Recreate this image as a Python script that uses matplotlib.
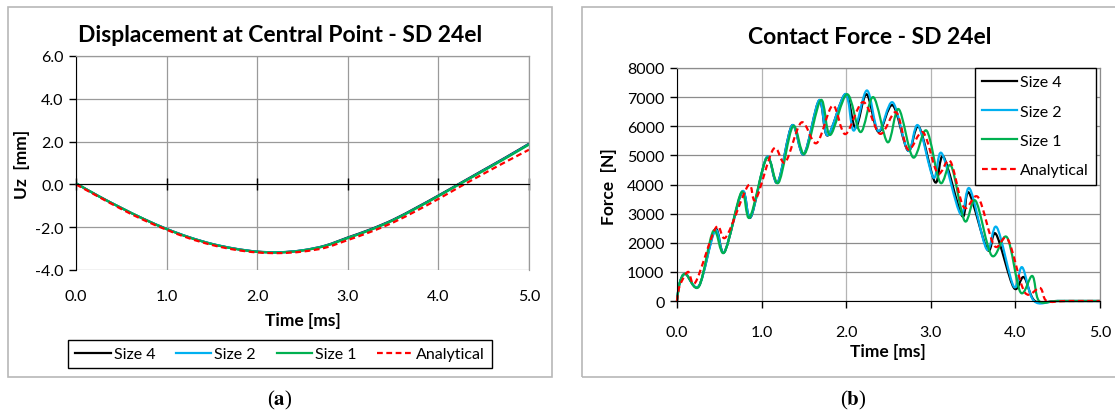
import numpy as np
import matplotlib.pyplot as plt
import matplotlib.transforms as mtransforms
from matplotlib.path import Path
from matplotlib.patches import PathPatch, Rectangle
from matplotlib.lines import Line2D

plt.rcParams['font.family'] = ['Lato', 'DejaVu Sans']
plt.rcParams['axes.unicode_minus'] = False

# ---- (a) displacement at central point [mm] vs time [ms]
t_disp = [0.0, 0.25, 0.5, 0.75, 1.0, 1.25, 1.5, 1.75, 2.0, 2.25, 2.5,
          2.75, 3.0, 3.25, 3.5, 3.75, 4.0, 4.25, 4.5, 4.75, 5.0]
uz_size4 = [0.05, -0.55, -1.10, -1.62, -2.08, -2.47, -2.78, -3.00, -3.14, -3.17, -3.08,
            -2.86, -2.48, -2.10, -1.65, -1.10, -0.52, 0.08, 0.68, 1.28, 1.90]
uz_size2 = [0.05, -0.55, -1.10, -1.62, -2.08, -2.47, -2.78, -3.00, -3.14, -3.17, -3.08,
            -2.87, -2.50, -2.12, -1.67, -1.12, -0.54, 0.06, 0.66, 1.26, 1.88]
uz_size1 = [0.05, -0.55, -1.10, -1.62, -2.09, -2.48, -2.79, -3.01, -3.15, -3.18, -3.09,
            -2.88, -2.51, -2.13, -1.68, -1.13, -0.55, 0.05, 0.64, 1.24, 1.86]
uz_anal = [0.0, -0.58, -1.15, -1.67, -2.12, -2.52, -2.83, -3.05, -3.18, -3.21, -3.14,
           -2.96, -2.60, -2.22, -1.78, -1.25, -0.68, -0.08, 0.50, 1.07, 1.62]

# ---- (b) contact force [N] vs time [ms]
t_size4 = [0.0, 0.03, 0.10, 0.26, 0.45, 0.56, 0.77, 0.87, 1.06, 1.19, 1.36, 1.50, 1.68,
           1.78, 1.99, 2.11, 2.24, 2.38, 2.55, 2.73, 2.86, 3.05, 3.15, 3.37, 3.45, 3.67,
           3.77, 3.98, 4.10, 4.23, 4.50, 5.00]
f_size4 = [0, 600, 930, 520, 2460, 1680, 3750, 2870, 4930, 4070, 6030, 5040, 6880,
           5680, 7100, 5950, 7100, 5810, 6720, 5160, 5980, 4080, 4950, 2920, 3720, 1760,
           2300, 460, 820, 0, 0, 0]
t_size2 = [0.0, 0.03, 0.10, 0.26, 0.45, 0.56, 0.77, 0.87, 1.06, 1.19, 1.36, 1.50, 1.68,
           1.78, 1.99, 2.09, 2.245, 2.38, 2.55, 2.73, 2.85, 3.03, 3.13, 3.35, 3.46, 3.66,
           3.78, 3.98, 4.08, 4.22, 4.50, 5.00]
f_size2 = [0, 600, 930, 520, 2420, 1680, 3760, 2880, 4940, 4070, 6030, 5040, 6900,
           5690, 7110, 5850, 7230, 5840, 6820, 5160, 6030, 4240, 5070, 2990, 3860, 1780,
           2530, 500, 1160, 0, 0, 0]
t_size1 = [0.0, 0.03, 0.10, 0.26, 0.43, 0.56, 0.76, 0.86, 1.06, 1.20, 1.37, 1.51, 1.70,
           1.81, 2.01, 2.17, 2.32, 2.49, 2.62, 2.79, 2.95, 3.11, 3.24, 3.40, 3.53, 3.72,
           3.90, 4.06, 4.20, 4.28, 4.50, 5.00]
f_size1 = [0, 600, 930, 500, 2410, 1670, 3730, 2870, 4900, 4060, 6000, 5060, 6900,
           5700, 7100, 5800, 7000, 5450, 6590, 4930, 5850, 4070, 4640, 2750, 3440, 1560,
           2190, 300, 860, 0, 0, 0]
t_anal = [0.0, 0.03, 0.13, 0.22, 0.46, 0.58, 0.84, 0.93, 1.14, 1.28, 1.47, 1.65, 1.84,
          1.99, 2.20, 2.40, 2.59, 2.73, 2.91, 3.08, 3.23, 3.39, 3.56, 3.75, 3.91, 4.11,
          4.29, 4.37, 4.60, 5.00]
f_anal = [0, 500, 1000, 650, 2520, 2200, 3960, 3480, 5220, 4760, 6130, 5420, 6710,
          5730, 6830, 5740, 6480, 5200, 5790, 4390, 4800, 3220, 3560, 1900, 2120, 300,
          450, 0, 0, 0]

labels = ['Size 4', 'Size 2', 'Size 1', 'Analytical']
colors = ['black', '#00b0f0', '#00b050', '#ff0000']
styles = ['-', '-', '-', (0, (2.6, 1.6))]

W, H = 1115, 414


def smooth_path(x, y):
    # Excel-like smoothed line: Catmull-Rom through the points as cubic Bezier
    pts = np.column_stack([x, y]).astype(float)
    n = len(pts)
    verts = [pts[0]]
    codes = [Path.MOVETO]
    for i in range(n - 1):
        p0 = pts[max(i - 1, 0)]
        p1 = pts[i]
        p2 = pts[i + 1]
        p3 = pts[min(i + 2, n - 1)]
        verts += [p1 + (p2 - p0) / 6, p2 - (p3 - p1) / 6, p2]
        codes += [Path.CURVE4] * 3
    return Path(verts, codes)


def draw_series(ax, x, y, color, ls):
    patch = PathPatch(smooth_path(x, y), fill=False, edgecolor=color, lw=1.6,
                      linestyle=ls, capstyle='butt', joinstyle='round')
    patch.set_clip_on(False)
    ax.add_patch(patch)


def px(x0, y0, x1, y1):
    return [x0 / W, 1 - y1 / H, (x1 - x0) / W, (y1 - y0) / H]


fig = plt.figure(figsize=(W / 100, H / 100), dpi=100)

# panel frames
for x0, x1 in [(8, 552), (582, 1125)]:
    fig.patches.append(Rectangle((x0 / W, 1 - 378 / H), (x1 - x0) / W, 370 / H,
                                 transform=fig.transFigure, fill=False,
                                 edgecolor='#b8b8b8', lw=1.2))

tick_fs = 11.5
lab_fs = 12.5
grid_c = '#9a9a9a'

# ---------------- (a)
ax1 = fig.add_axes(px(76, 57, 529, 271))
for y, c, ls in zip([uz_size4, uz_size2, uz_size1, uz_anal], colors, styles):
    draw_series(ax1, t_disp, y, c, ls)
ax1.set_xlim(0, 5)
ax1.set_ylim(-4, 6)
ax1.set_xticks(np.arange(0, 5.01, 1.0))
ax1.set_yticks(np.arange(-4, 6.01, 2.0))
ax1.xaxis.set_major_formatter(plt.FormatStrFormatter('%.1f'))
ax1.yaxis.set_major_formatter(plt.FormatStrFormatter('%.1f'))
ax1.grid(True, color=grid_c, lw=0.9)
ax1.set_axisbelow(True)
ax1.spines['bottom'].set_position(('data', 0))
ax1.spines['bottom'].set_color('black')
ax1.spines['left'].set_color('black')
for s in ['top', 'right']:
    ax1.spines[s].set_color(grid_c)
    ax1.spines[s].set_linewidth(0.9)
ax1.tick_params(axis='x', direction='inout', length=8, width=1, labelsize=tick_fs, pad=10)
ax1.tick_params(axis='y', direction='out', length=5, width=1, labelsize=tick_fs, pad=4)
# x tick labels sit below the plot area, not at the y=0 axis line
offset = mtransforms.ScaledTranslation(0, -(271 - (57 + 214 * 0.6)) / 100, fig.dpi_scale_trans)
for lab in ax1.get_xticklabels():
    lab.set_transform(lab.get_transform() + offset)

fig.text(280 / W, 1 - 35 / H, 'Displacement at Central Point - SD 24el', ha='center', va='center',
         fontsize=16.5, fontweight='bold')
fig.text(22 / W, 1 - 164 / H, 'Uz  [mm]', ha='center', va='center', rotation=90,
         fontsize=lab_fs, fontweight='bold')
fig.text(302.5 / W, 1 - 321 / H, 'Time [ms]', ha='center', va='center',
         fontsize=lab_fs, fontweight='bold')

handles = [Line2D([], [], color=c, lw=1.6, linestyle=ls) for c, ls in zip(colors, styles)]
fig.legend(handles, labels, loc='center', bbox_to_anchor=(280 / W, 1 - 355 / H), ncol=4,
           fontsize=tick_fs, frameon=True, fancybox=False, edgecolor='black', framealpha=1,
           handlelength=2.2, handletextpad=0.2, columnspacing=1.3, borderpad=0.45)

fig.text(280 / W, 1 - 400 / H, '(' + r'$\mathbf{a}$' + ')', ha='center', va='center',
         fontsize=15, family='Liberation Serif', math_fontfamily='stix')

# ---------------- (b)
ax2 = fig.add_axes(px(677, 69, 1100, 302))
for x, y, c, ls in zip([t_size4, t_size2, t_size1, t_anal],
                       [f_size4, f_size2, f_size1, f_anal], colors, styles):
    draw_series(ax2, x, y, c, ls)
ax2.set_xlim(0, 5)
ax2.set_ylim(0, 8000)
ax2.set_xticks(np.arange(0, 5.01, 1.0))
ax2.set_yticks(np.arange(0, 8001, 1000))
ax2.xaxis.set_major_formatter(plt.FormatStrFormatter('%.1f'))
ax2.grid(True, axis='y', color='#8c8c8c', lw=0.9)
ax2.grid(True, axis='x', color='#b4b4b4', lw=0.9)
ax2.set_axisbelow(True)
ax2.spines['bottom'].set_color('black')
ax2.spines['left'].set_color('black')
for s in ['top', 'right']:
    ax2.spines[s].set_color('#8c8c8c')
    ax2.spines[s].set_linewidth(0.9)
ax2.tick_params(axis='x', direction='out', length=5, width=1, labelsize=tick_fs, pad=12)
ax2.tick_params(axis='y', direction='out', length=5, width=1, labelsize=tick_fs, pad=4)

fig.text(870 / W, 1 - 37 / H, 'Contact Force - SD 24el', ha='center', va='center',
         fontsize=16.5, fontweight='bold')
fig.text(609 / W, 1 - 187 / H, 'Force  [N]', ha='center', va='center', rotation=90,
         fontsize=lab_fs, fontweight='bold')
fig.text(888 / W, 1 - 352 / H, 'Time [ms]', ha='center', va='center',
         fontsize=lab_fs, fontweight='bold')
fig.legend(handles, labels, loc='upper right', bbox_to_anchor=(1096 / W, 1 - 69 / H), ncol=1,
           fontsize=tick_fs, frameon=True, fancybox=False, edgecolor='black', framealpha=1,
           handlelength=2.2, handletextpad=0.2, labelspacing=0.95, borderpad=0.45,
           borderaxespad=0)

fig.text(853 / W, 1 - 400 / H, '(' + r'$\mathbf{b}$' + ')', ha='center', va='center',
         fontsize=15, family='Liberation Serif', math_fontfamily='stix')

fig.savefig('out.png', dpi=100)
